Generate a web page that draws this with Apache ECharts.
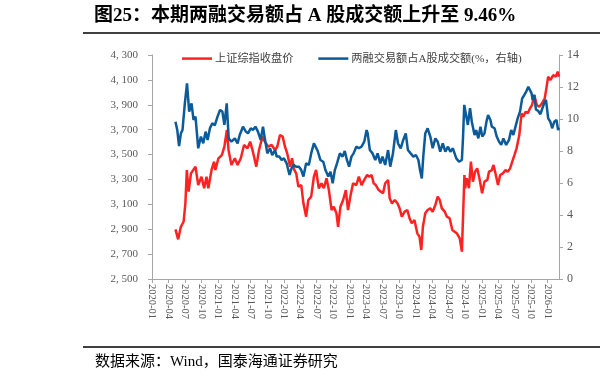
<!DOCTYPE html>
<html><head><meta charset="utf-8">
<script src="https://cdn.jsdelivr.net/npm/echarts@6/dist/echarts.min.js"></script>
<style>html,body{margin:0;padding:0;background:#fff}#c{width:600px;height:386px}</style>
</head><body><div id="c"></div>
<script>
// 上证综指收盘价 (left axis)
const redDates = ['2020-05-10','2020-05-25','2020-06-09','2020-06-24','2020-07-04','2020-07-12','2020-07-22','2020-08-04','2020-08-29','2020-09-13','2020-10-01','2020-10-16','2020-10-29','2020-11-08','2020-11-26','2020-12-10','2020-12-17','2021-01-03','2021-01-22','2021-02-05','2021-02-19','2021-02-28','2021-03-16','2021-04-04','2021-04-19','2021-05-07','2021-05-25','2021-06-13','2021-06-28','2021-07-13','2021-08-01','2021-08-16','2021-09-04','2021-09-17','2021-10-07','2021-10-25','2021-11-13','2021-11-25','2021-12-10','2021-12-25','2022-01-07','2022-01-19','2022-02-04','2022-02-15','2022-02-27','2022-03-10','2022-03-22','2022-04-07','2022-04-19','2022-05-04','2022-05-16','2022-06-01','2022-06-16','2022-06-28','2022-07-13','2022-07-28','2022-08-10','2022-08-25','2022-09-07','2022-09-22','2022-10-04','2022-10-19','2022-10-28','2022-11-10','2022-11-25','2022-12-10','2022-12-22','2023-01-04','2023-01-19','2023-02-06','2023-02-20','2023-03-07','2023-03-22','2023-04-07','2023-04-19','2023-05-02','2023-05-13','2023-05-25','2023-06-10','2023-06-19','2023-07-04','2023-07-16','2023-08-01','2023-08-10','2023-08-22','2023-09-07','2023-09-22','2023-10-04','2023-10-16','2023-11-01','2023-11-16','2023-11-28','2023-12-10','2023-12-25','2024-01-10','2024-01-22','2024-02-01','2024-02-10','2024-02-23','2024-03-07','2024-03-22','2024-04-04','2024-04-19','2024-05-02','2024-05-13','2024-05-25','2024-06-10','2024-06-22','2024-07-07','2024-07-22','2024-08-04','2024-08-16','2024-09-01','2024-09-13','2024-09-20','2024-09-27','2024-10-01','2024-10-10','2024-10-22','2024-11-02','2024-11-13','2024-11-25','2024-12-07','2024-12-19','2025-01-03','2025-01-16','2025-02-01','2025-02-10','2025-02-25','2025-03-07','2025-03-16','2025-04-01','2025-04-13','2025-04-28','2025-05-13','2025-05-25','2025-06-07','2025-06-19','2025-07-01','2025-07-13','2025-07-28','2025-08-10','2025-08-19','2025-09-01','2025-09-13','2025-09-25','2025-10-07','2025-10-19','2025-11-02','2025-11-16','2025-12-01','2025-12-16','2025-12-25','2026-01-04','2026-01-16','2026-02-01','2026-02-15','2026-02-26','2026-03-05'];
const redValues = [2899,2819,2920,2960,3108,3376,3202,3349,3403,3255,3322,3229,3322,3229,3376,3443,3376,3470,3496,3563,3697,3537,3416,3470,3416,3470,3577,3550,3604,3523,3403,3537,3644,3604,3563,3577,3537,3563,3657,3644,3563,3510,3403,3470,3376,3349,3242,3255,3108,3001,3135,3162,3322,3376,3229,3269,3229,3309,3215,3054,3081,3028,2920,3081,3135,3215,3054,3162,3269,3255,3322,3255,3296,3336,3322,3336,3269,3255,3215,3229,3189,3269,3296,3148,3108,3135,3108,3068,3001,3041,3054,2988,2948,2974,2867,2840,2733,2920,3028,3054,3068,3041,3095,3162,3135,3068,3041,3001,2988,2894,2880,2867,2827,2720,2733,3336,3229,3309,3229,3443,3282,3362,3389,3309,3189,3282,3296,3362,3373,3416,3362,3255,3336,3349,3376,3362,3389,3443,3496,3550,3657,3831,3804,3844,3831,3871,3898,3979,3898,3884,3912,3952,4032,4126,4099,4139,4126,4166,4126];

// 两融交易额占A股成交额(%，右轴)
const blueDates = ['2020-05-10','2020-05-20','2020-05-30','2020-06-09','2020-06-18','2020-07-01','2020-07-13','2020-07-25','2020-08-07','2020-08-18','2020-08-29','2020-09-13','2020-09-28','2020-10-11','2020-10-24','2020-11-04','2020-11-17','2020-11-30','2020-12-14','2020-12-29','2021-01-12','2021-01-25','2021-02-05','2021-02-18','2021-03-01','2021-03-16','2021-04-04','2021-04-19','2021-05-01','2021-05-19','2021-06-04','2021-06-16','2021-07-01','2021-07-13','2021-07-27','2021-08-10','2021-08-25','2021-09-07','2021-09-14','2021-10-01','2021-10-16','2021-10-28','2021-11-13','2021-11-22','2021-12-07','2021-12-19','2022-01-01','2022-01-16','2022-02-01','2022-02-12','2022-02-23','2022-03-10','2022-03-25','2022-04-07','2022-04-19','2022-05-04','2022-05-19','2022-06-01','2022-06-16','2022-06-25','2022-07-07','2022-07-22','2022-08-07','2022-08-19','2022-09-04','2022-09-16','2022-09-28','2022-10-10','2022-10-22','2022-11-07','2022-11-22','2022-12-04','2022-12-16','2022-12-28','2023-01-10','2023-01-22','2023-02-06','2023-02-20','2023-03-07','2023-03-22','2023-04-04','2023-04-10','2023-04-22','2023-05-07','2023-05-22','2023-06-04','2023-06-19','2023-07-01','2023-07-16','2023-08-01','2023-08-13','2023-08-28','2023-09-13','2023-09-25','2023-10-10','2023-10-24','2023-11-07','2023-11-19','2023-12-04','2023-12-19','2024-01-02','2024-01-16','2024-01-25','2024-02-04','2024-02-12','2024-02-23','2024-03-07','2024-03-22','2024-04-04','2024-04-19','2024-05-02','2024-05-16','2024-05-30','2024-06-13','2024-06-28','2024-07-11','2024-07-25','2024-08-04','2024-08-13','2024-08-28','2024-09-13','2024-09-19','2024-09-26','2024-10-07','2024-10-16','2024-10-28','2024-11-07','2024-11-22','2024-12-01','2024-12-13','2024-12-25','2025-01-04','2025-01-16','2025-01-27','2025-02-05','2025-02-18','2025-02-26','2025-03-13','2025-03-25','2025-04-07','2025-04-19','2025-05-01','2025-05-16','2025-06-01','2025-06-13','2025-06-25','2025-07-07','2025-07-19','2025-08-01','2025-08-13','2025-08-25','2025-09-04','2025-09-16','2025-09-26','2025-10-04','2025-10-10','2025-10-19','2025-10-28','2025-11-10','2025-11-22','2025-12-01','2025-12-13','2025-12-23','2026-01-04','2026-01-16','2026-01-26','2026-02-07','2026-02-19','2026-02-28','2026-03-05'];
const blueValues = [9.83,9.31,8.31,9.1,9.31,10.98,12.23,10.46,10.98,9.94,10.15,8.17,8.9,8.48,9.21,8.69,9.42,9.73,9.6,10.15,10.56,10.46,9.63,10.98,8.79,8.58,8.79,8.48,9.0,9.52,9.21,9.1,9.42,9.31,9.52,9.21,8.69,9.52,9.0,7.85,8.17,7.75,8.06,7.65,7.65,7.44,7.54,7.23,6.5,6.92,7.13,7.02,7.02,6.81,6.4,7.23,7.13,7.85,8.48,8.58,8.0,7.44,7.33,6.81,6.4,6.71,5.98,6.81,7.23,7.85,7.65,8.0,7.44,7.02,7.65,7.85,8.27,8.17,8.27,8.58,9.31,9.1,8.06,7.85,7.44,7.85,7.23,7.65,7.13,8.06,7.02,7.85,9.31,8.48,8.17,8.69,9.1,8.06,7.85,7.65,7.75,7.44,6.81,6.29,7.65,9.1,9.42,8.9,8.17,8.79,8.58,7.96,8.48,7.96,8.27,7.96,8.17,8.06,7.54,7.33,7.44,8.79,10.88,10.77,9.63,10.67,9.83,9.0,9.31,8.79,9.52,8.9,9.1,9.83,10.25,9.94,9.52,9.42,8.9,8.58,8.38,8.79,8.38,8.69,9.31,9.0,9.52,10.04,10.46,11.29,11.5,11.71,12.02,12.1,11.6,11.19,11.5,10.6,10.5,10.3,10.4,11.0,11.2,10.04,9.83,9.42,9.83,9.94,9.31,9.46];

const leftTicks = [2500,2700,2900,3100,3300,3500,3700,3900,4100,4300];
const rightTicks = [0,2,4,6,8,10,12,14];
const xTickLabels = ['2020-01','2020-04','2020-07','2020-10','2021-01','2021-04','2021-07','2021-10','2022-01','2022-04','2022-07','2022-10','2023-01','2023-04','2023-07','2023-10','2024-01','2024-04','2024-07','2024-10','2025-01','2025-04','2025-07','2025-10','2026-01'];
const xStart = '2020-01-01';
const xEnd = '2026-03-05';

const ts = s => { const p = s.split('-').map(Number); return +new Date(p[0], p[1]-1, p[2] || 1); };
const xTickValues = xTickLabels.map(ts);
const fmtX = v => { const d = new Date(v); return d.getFullYear() + '-' + String(d.getMonth()+1).padStart(2,'0'); };
const fmtL = v => Math.floor(v/1000) + ', ' + String(v % 1000).padStart(3,'0');

const serif = "'Liberation Serif','Noto Sans CJK SC',serif";
const cjk = "'Liberation Serif','Noto Sans CJK SC',sans-serif";
const axisGrey = '#A6A6A6';
const labelGrey = '#595959';

const chart = echarts.init(document.getElementById('c'), null, {renderer: 'canvas'});
chart.setOption({
  animation: false,
  backgroundColor: '#fff',
  title: {
    text: '图25：本期两融交易额占 A 股成交额上升至 9.46%',
    left: 94, top: 7, padding: 0,
    textStyle: {fontFamily: cjk, fontWeight: 'bold', fontSize: 19, color: '#000'}
  },
  graphic: [
    {type: 'line', shape: {x1: 83, y1: 33, x2: 600, y2: 33}, style: {stroke: '#000', lineWidth: 1.5}},
    {type: 'line', shape: {x1: 83, y1: 347, x2: 600, y2: 347}, style: {stroke: '#000', lineWidth: 1.5}},
    {type: 'text', left: 95, top: 355, style: {text: '数据来源：Wind，国泰海通证券研究', font: "15px 'Liberation Serif','Noto Sans CJK SC'", fill: '#000'}}
  ],
  legend: {
    left: 182, top: 53, padding: 0,
    itemWidth: 30, itemHeight: 2.5, itemGap: 25,
    icon: 'rect',
    textStyle: {fontFamily: cjk, fontSize: 11.2, color: '#404040', padding: [0,0,0,-2]},
    data: ['上证综指收盘价', '两融交易额占A股成交额(%，右轴)']
  },
  grid: {left: 152, right: 41, top: 55, bottom: 107, containLabel: false},
  xAxis: {
    type: 'value',
    min: ts(xStart), max: ts(xEnd),
    splitLine: {show: false},
    axisLine: {lineStyle: {color: axisGrey, width: 1}},
    axisTick: {show: true, length: 4, lineStyle: {color: axisGrey}, customValues: xTickValues},
    axisLabel: {
      customValues: xTickValues,
      rotate: -90, margin: 5,
      fontFamily: serif, fontSize: 10.5, color: labelGrey,
      formatter: fmtX
    }
  },
  yAxis: [
    {
      type: 'value', min: 2500, max: 4300,
      splitLine: {show: false},
      axisLine: {show: true, lineStyle: {color: axisGrey}},
      axisTick: {show: true, length: 4, inside: false, lineStyle: {color: axisGrey}, customValues: leftTicks},
      axisLabel: {customValues: leftTicks, formatter: fmtL, margin: 14, fontFamily: serif, fontSize: 11, color: labelGrey}
    },
    {
      type: 'value', min: 0, max: 14,
      splitLine: {show: false},
      axisLine: {show: true, lineStyle: {color: axisGrey}},
      axisTick: {show: true, length: 4, lineStyle: {color: axisGrey}, customValues: rightTicks},
      axisLabel: {customValues: rightTicks, margin: 8, fontFamily: serif, fontSize: 12, color: labelGrey}
    }
  ],
  series: [
    {
      name: '上证综指收盘价', type: 'line', yAxisIndex: 0,
      data: redDates.map((d, i) => [ts(d), redValues[i]]),
      showSymbol: false, symbol: 'none',
      lineStyle: {color: '#FF2222', width: 2.5}, itemStyle: {color: '#FF2222'}
    },
    {
      name: '两融交易额占A股成交额(%，右轴)', type: 'line', yAxisIndex: 1,
      data: blueDates.map((d, i) => [ts(d), blueValues[i]]),
      showSymbol: false, symbol: 'none',
      lineStyle: {color: '#0B5A9A', width: 2.5}, itemStyle: {color: '#0B5A9A'}
    }
  ]
});
</script></body></html>
